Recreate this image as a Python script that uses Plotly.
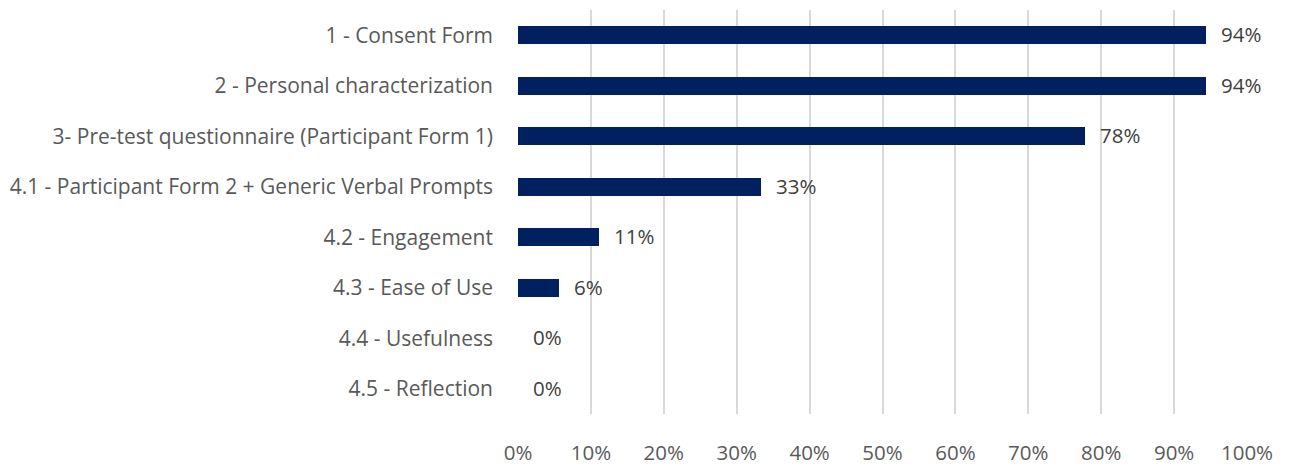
import plotly.graph_objects as go

categories = [
    "1 - Consent Form",
    "2 - Personal characterization",
    "3- Pre-test questionnaire (Participant Form 1)",
    "4.1 - Participant Form 2 + Generic Verbal Prompts",
    "4.2 - Engagement",
    "4.3 - Ease of Use",
    "4.4 - Usefulness",
    "4.5 - Reflection",
]
values = [94.4, 94.4, 77.8, 33.3, 11.1, 5.6, 0.0, 0.0]
labels = ["94%", "94%", "78%", "33%", "11%", "6%", "0%", "0%"]
tick_vals = [0, 10, 20, 30, 40, 50, 60, 70, 80, 90, 100]
tick_text = ["0%", "10%", "20%", "30%", "40%", "50%", "60%", "70%", "80%", "90%", "100%"]

FONT = "Open Sans"
fig = go.Figure()
fig.add_trace(go.Bar(
    y=categories, x=values, orientation="h",
    marker=dict(color="#002060", line=dict(width=0)),
    width=0.36,
))
for c, v, t in zip(categories, values, labels):
    fig.add_annotation(x=v, y=c, text=t, showarrow=False, xanchor="left",
                       xshift=13, yshift=1,
                       font=dict(family=FONT, size=20.5, color="#404040"))

fig.update_layout(
    width=1290, height=466,
    margin=dict(l=518, r=43, t=10, b=52),
    paper_bgcolor="white", plot_bgcolor="white",
    showlegend=False,
    font=dict(family=FONT, size=20, color="#595959"),
    bargap=0,
)
fig.update_xaxes(range=[0, 100], tickvals=tick_vals, ticktext=tick_text,
                 showgrid=True, gridcolor="#D9D9D9", gridwidth=2,
                 zeroline=False, showline=False, ticks="", automargin=False,
                 tickfont=dict(family=FONT, size=20.5, color="#595959"),
                 ticklabelstandoff=24)
fig.update_yaxes(autorange="reversed", showgrid=False, zeroline=False,
                 showline=False, ticks="", automargin=False,
                 tickfont=dict(family=FONT, size=21, color="#595959"),
                 ticklabelstandoff=24)

fig.write_html("out.html")
